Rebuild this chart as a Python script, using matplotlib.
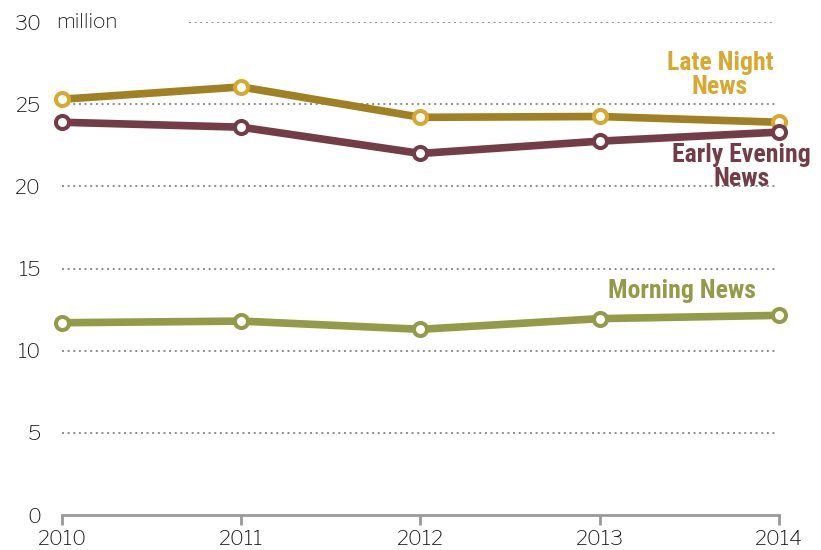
import matplotlib
matplotlib.use("Agg")
import matplotlib.pyplot as plt

years = [2010, 2011, 2012, 2013, 2014]
late_night = [25.3, 26.05, 24.2, 24.25, 23.9]
early_evening = [23.9, 23.6, 22.0, 22.75, 23.3]
morning = [11.7, 11.8, 11.3, 11.95, 12.15]
yticks = [0, 5, 10, 15, 20, 25, 30]

plt.rcParams['font.family'] = ['Libre Franklin', 'DejaVu Sans']
plt.rcParams['font.weight'] = 500
label_family = ['Roboto Condensed', 'IBM Plex Sans Condensed', 'DejaVu Sans']

fig = plt.figure(figsize=(8.21, 5.5), dpi=100)
ax = fig.add_axes([0.0755, 0.0636, 0.8733, 0.8964])
ax.set_xlim(2010, 2014)
ax.set_ylim(0, 30)

grid_color = '#8c8c8c'
for v in yticks[1:]:
    x0 = 2010.71 if v == 30 else 2010
    ax.plot([x0, 2013.98], [v, v], color=grid_color, lw=1.4, ls=(0, (1, 1.9)), zorder=1)

series = [
    (late_night, '#A08022', '#D8A92E'),
    (early_evening, '#733C47', '#733C47'),
    (morning, '#939B48', '#939B48'),
]
for vals, lc, mc in series:
    ax.plot(years, vals, color=lc, lw=5.5, solid_capstyle='butt', zorder=3, clip_on=False)
    ax.plot(years, vals, ls='none', marker='o', ms=9.4, mfc='white', mec=mc, mew=2.9,
            zorder=4, clip_on=False)

for s in ['top', 'right', 'left']:
    ax.spines[s].set_visible(False)
ax.spines['bottom'].set_color('#999999')
ax.spines['bottom'].set_linewidth(2)

ax.set_xticks(years)
ax.set_xticklabels([str(y) for y in years])
ax.set_yticks(yticks)
ax.set_yticklabels([str(v) for v in yticks])
ax.tick_params(axis='x', length=7, width=2, color='#999999', labelsize=15, pad=4,
               labelcolor='#111111')
ax.tick_params(axis='y', length=0, labelsize=15, pad=15, labelcolor='#111111')

ax.text(2009.97, 30, 'million', fontsize=15, va='center', ha='left', color='#111111')

lbl = dict(fontsize=18.5, fontweight='bold', ha='center', va='center', linespacing=1.0,
           family=label_family)
ax.text(2013.67, 26.78, 'Late Night\nNews', color='#D8A92E', **lbl)
ax.text(2013.79, 21.18, 'Early Evening\nNews', color='#733C47', **lbl)
ax.text(2013.46, 13.63, 'Morning News', color='#939B48', **lbl)

fig.savefig('out.png', dpi=100)
